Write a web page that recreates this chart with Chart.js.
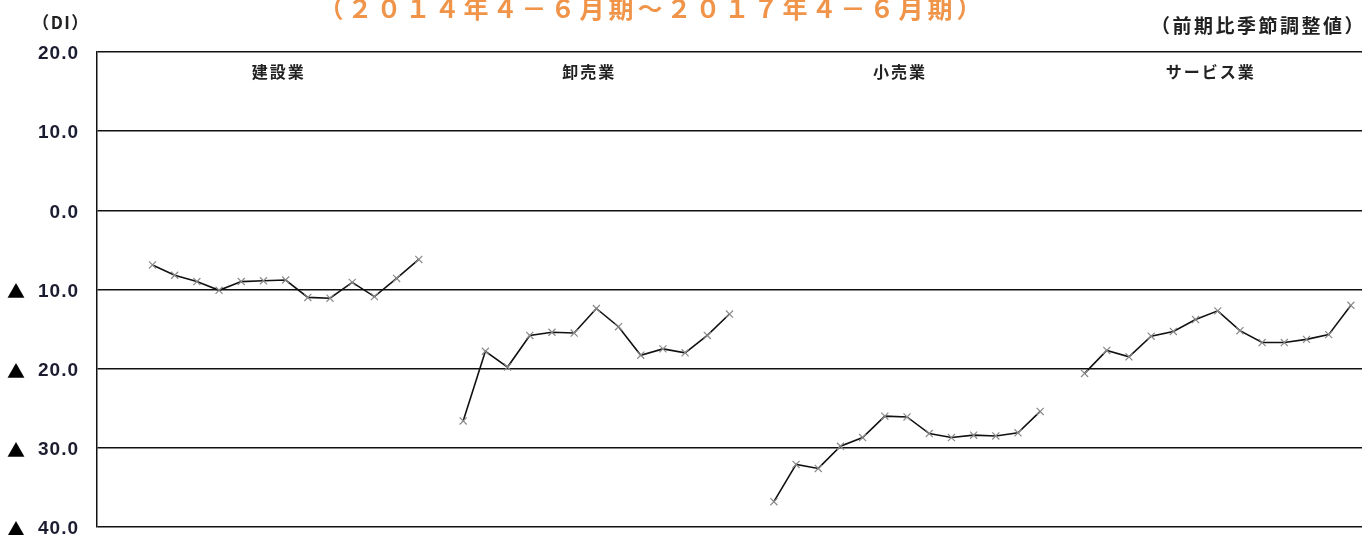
<!DOCTYPE html>
<html>
<head>
<meta charset="utf-8">
<script src="https://cdn.jsdelivr.net/npm/chart.js@4"></script>
<style>
  html, body { margin: 0; padding: 0; background: #fff; overflow: hidden; }
  #wrap { width: 1370px; height: 535px; position: relative; }
</style>
</head>
<body>
<div id="wrap"><canvas id="chart"></canvas></div>
<script>
'use strict';

// 2014年4-6月期 ～ 2017年4-6月期 (13 quarters per industry)
const quarters = ["2014/4-6","7-9","10-12","2015/1-3","4-6","7-9","10-12","2016/1-3","4-6","7-9","10-12","2017/1-3","4-6"];
const industries = ["建設業", "卸売業", "小売業", "サービス業"];

const construction = [-6.9, -8.2, -9.0, -10.1, -9.0, -8.9, -8.8, -11.0, -11.1, -9.1, -10.9, -8.6, -6.2];
const wholesale    = [-26.6, -17.8, -19.8, -15.8, -15.4, -15.5, -12.4, -14.7, -18.3, -17.5, -18.0, -15.8, -13.1];
const retail       = [-36.8, -32.1, -32.6, -29.8, -28.7, -26.0, -26.1, -28.2, -28.7, -28.4, -28.5, -28.1, -25.4];
const services     = [-20.6, -17.7, -18.5, -15.9, -15.3, -13.8, -12.7, -15.2, -16.7, -16.7, -16.3, -15.7, -12.0];

const yTicks = [20, 10, 0, -10, -20, -30, -40];

const seriesList = [construction, wholesale, retail, services];

// shared x axis: 2 blank slots, then each block of 13 quarters with 1 blank slot between
const LEAD = 2;
const BLOCK = quarters.length + 1;
const labels = [];
for (let i = 0; i < LEAD; i++) labels.push('');
industries.forEach(function (name, k) {
  quarters.forEach(function (q) { labels.push(name + ' ' + q); });
  if (k < industries.length - 1) labels.push('');
});

const datasets = seriesList.map(function (values, k) {
  const data = labels.map(function () { return null; });
  values.forEach(function (v, i) { data[LEAD + k * BLOCK + i] = v; });
  return {
    label: industries[k],
    data: data,
    borderColor: '#111',
    borderWidth: 1.6,
    pointStyle: 'crossRot',
    pointRadius: 5,
    pointBorderColor: '#8a8a8a',
    pointBorderWidth: 1.2,
    pointBackgroundColor: 'transparent',
    spanGaps: false,
    tension: 0
  };
});

const textColor = '#222';
const tickColor = '#1c1c30';
const jpFont = '"Noto Sans CJK JP", "Noto Sans", sans-serif';
const numFont = '"Liberation Sans", Arial, sans-serif';

const textPlugin = {
  id: 'texts',
  afterDraw: function (chart) {
    const ctx = chart.ctx;
    const x = chart.scales.x;
    const y = chart.scales.y;
    ctx.save();
    ctx.textBaseline = 'middle';

    // title
    ctx.textAlign = 'center';
    ctx.fillStyle = '#f0944a';
    ctx.font = 'bold 25px ' + jpFont;
    ctx.letterSpacing = '4px';
    ctx.fillText('（２０１４年４－６月期～２０１７年４－６月期）', 652, 8);

    // unit notes
    ctx.fillStyle = textColor;
    ctx.font = 'bold 17px ' + jpFont;
    ctx.letterSpacing = '1.5px';
    ctx.fillText('（DI）', 61, 23);
    ctx.textAlign = 'right';
    ctx.font = 'bold 19px ' + jpFont;
    ctx.letterSpacing = '2.5px';
    ctx.fillText('（前期比季節調整値）', 1366, 26);

    // y tick labels (negative values shown with ▲)
    y.ticks.forEach(function (t) {
      const py = y.getPixelForValue(t.value) + 2;
      ctx.fillStyle = tickColor;
      ctx.textAlign = 'right';
      ctx.font = 'bold 19px ' + numFont;
      ctx.letterSpacing = '1px';
      ctx.fillText(Math.abs(t.value).toFixed(1), 79, py);
      if (t.value < 0) {
        ctx.fillStyle = '#000';
        ctx.textAlign = 'left';
        ctx.font = 'bold 18px ' + jpFont;
        ctx.letterSpacing = '0px';
        ctx.fillText('▲', 7, py);
      }
    });

    // industry labels
    ctx.textAlign = 'center';
    ctx.fillStyle = textColor;
    ctx.font = 'bold 16px ' + jpFont;
    ctx.letterSpacing = '2px';
    industries.forEach(function (name, k) {
      const mid = LEAD + k * BLOCK + 6;
      ctx.fillText(name, x.getPixelForValue(mid) - 7, y.getPixelForValue(20) + 20);
    });
    ctx.restore();
  }
};

new Chart(document.getElementById('chart').getContext('2d'), {
  type: 'line',
  data: { labels: labels, datasets: datasets },
  options: {
    responsive: true,
    maintainAspectRatio: false,
    animation: false,
    layout: { padding: { top: 52, right: 8, bottom: 8, left: 0 } },
    plugins: {
      legend: { display: false },
      tooltip: { enabled: false },
      title: { display: false }
    },
    scales: {
      x: {
        display: false,
        offset: true
      },
      y: {
        min: -40,
        max: 20,
        afterBuildTicks: function (scale) {
          scale.ticks = yTicks.map(function (v) { return { value: v }; });
        },
        afterFit: function (scale) { scale.width = 97; },
        grid: {
          color: '#111',
          lineWidth: 1.5,
          drawTicks: false
        },
        border: { display: true, color: '#111', width: 1.5 },
        ticks: { display: false }
      }
    }
  },
  plugins: [textPlugin]
});
</script>
</body>
</html>
